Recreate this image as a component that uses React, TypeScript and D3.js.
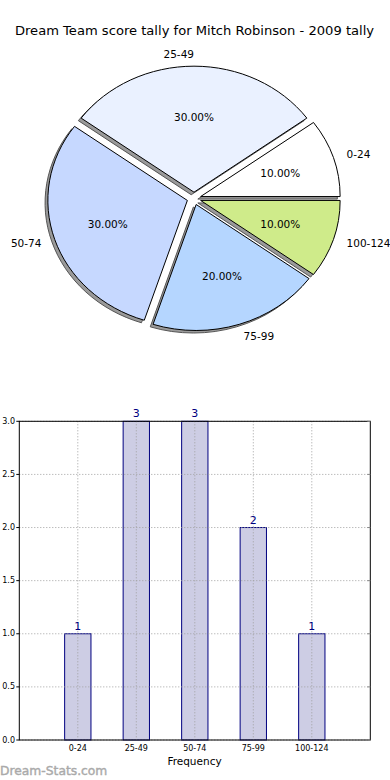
import React from "react";
import * as d3 from "d3";

const title = "Dream Team score tally for Mitch Robinson - 2009 tally";
const categories = ["0-24", "25-49", "50-74", "75-99", "100-124"];
const counts = [1, 3, 3, 2, 1];
const sliceColors = ["#ffffff", "#eaf1ff", "#c6d8ff", "#b5d6ff", "#cfeb8a"];
const yTicks = [0, 0.5, 1, 1.5, 2, 2.5, 3];

const FONT = "DejaVu Sans, Verdana, sans-serif";

export default function App() {
  React.useEffect(() => {
    document.body.style.margin = "0";
  }, []);

  // Pie geometry (elliptical, as in matplotlib without equal aspect)
  const cx = 194;
  const cy = 198.5;
  const rx = 139.5;
  const ry = 126;
  const explode = 0.05;
  const total = d3.sum(counts);

  const pie = d3
    .pie<number>()
    .sort(null)
    .startAngle(Math.PI / 2)
    .endAngle(Math.PI / 2 - 2 * Math.PI);
  const arcs = pie(counts);
  const arcGen = d3.arc<d3.PieArcDatum<number>>().innerRadius(0).outerRadius(1);

  const slices = arcs.map((a, i) => {
    const mid = (a.startAngle + a.endAngle) / 2;
    const ux = Math.sin(mid);
    const uy = -Math.cos(mid);
    const ox = cx + explode * rx * ux;
    const oy = cy + explode * ry * uy;
    return { a, i, mid, ux, uy, ox, oy };
  });

  // Bar chart geometry
  const left = 19.3;
  const right = 370.3;
  const top = 421.3;
  const bottom = 740;
  const x = d3.scaleLinear().domain([-1, 5]).range([left, right]);
  const y = d3.scaleLinear().domain([0, 3]).range([bottom, top]);
  const barW = 0.45;

  return (
    <svg
      width={390}
      height={780}
      style={{ position: "absolute", left: 0, top: 0, background: "#fff" }}
      fontFamily={FONT}
    >
      <rect x={0} y={0} width={390} height={780} fill="#fff" />
      <text x={194.5} y={35} textAnchor="middle" fontSize={13.1} fill="#000">
        {title}
      </text>

      {/* shadows */}
      {slices.map((s) => (
        <g
          key={"sh" + s.i}
          transform={`translate(${s.ox - 0.02 * rx},${s.oy + 0.02 * ry}) scale(${rx},${ry})`}
        >
          <path
            d={arcGen(s.a) || ""}
            fill="#9a9a9a"
            stroke="#555"
            strokeWidth={1}
            vectorEffect="non-scaling-stroke"
          />
        </g>
      ))}
      {/* wedges */}
      {slices.map((s) => (
        <g key={"w" + s.i} transform={`translate(${s.ox},${s.oy}) scale(${rx},${ry})`}>
          <path
            d={arcGen(s.a) || ""}
            fill={sliceColors[s.i]}
            stroke="#000"
            strokeWidth={1}
            vectorEffect="non-scaling-stroke"
          />
        </g>
      ))}
      {/* labels */}
      {slices.map((s) => {
        const lx = s.ox + 1.1 * rx * s.ux;
        const ly = s.oy + 1.1 * ry * s.uy;
        const anchor = s.ux > 1e-6 ? "start" : "end";
        const px = s.ox + 0.6 * rx * s.ux;
        const py = s.oy + 0.6 * ry * s.uy;
        const pct = ((counts[s.i] / total) * 100).toFixed(2) + "%";
        return (
          <g key={"l" + s.i} fontSize={10.5} fill="#000">
            <text x={lx} y={ly} textAnchor={anchor} dominantBaseline="central">
              {categories[s.i]}
            </text>
            <text x={px} y={py} textAnchor="middle" dominantBaseline="central">
              {pct}
            </text>
          </g>
        );
      })}

      {/* Bar chart */}
      {counts.map((c, i) => (
        <rect
          key={"b" + i}
          x={x(i - barW / 2)}
          y={y(c)}
          width={x(i + barW / 2) - x(i - barW / 2)}
          height={y(0) - y(c)}
          fill="#cdcde4"
          stroke="#000080"
          strokeWidth={1}
        />
      ))}
      {/* grid */}
      {yTicks.map((t) => (
        <line
          key={"gy" + t}
          x1={left}
          x2={right}
          y1={y(t)}
          y2={y(t)}
          stroke="#a0a0a0"
          strokeWidth={1}
          strokeDasharray="1,2"
        />
      ))}
      {categories.map((c, i) => (
        <line
          key={"gx" + i}
          x1={x(i)}
          x2={x(i)}
          y1={top}
          y2={bottom}
          stroke="#a0a0a0"
          strokeWidth={1}
          strokeDasharray="1,2"
        />
      ))}
      <rect x={left} y={top} width={right - left} height={bottom - top} fill="none" stroke="#000" strokeWidth={1} />
      {yTicks.map((t) => (
        <g key={"ty" + t}>
          <line x1={left - 3} x2={left} y1={y(t)} y2={y(t)} stroke="#000" strokeWidth={1} />
          <line x1={right - 3} x2={right} y1={y(t)} y2={y(t)} stroke="#888" strokeWidth={1} />
          <text x={15} y={y(t)} textAnchor="end" dominantBaseline="central" fontSize={8} fill="#000">
            {t.toFixed(1)}
          </text>
        </g>
      ))}
      {categories.map((c, i) => (
        <text key={"tx" + i} x={x(i)} y={748} textAnchor="middle" dominantBaseline="central" fontSize={8} fill="#000">
          {c}
        </text>
      ))}
      {counts.map((c, i) => (
        <text key={"v" + i} x={x(i)} y={y(c) - 4} textAnchor="middle" fontSize={11} fill="#000080">
          {c}
        </text>
      ))}
      <text x={194.5} y={761} textAnchor="middle" dominantBaseline="central" fontSize={10.5} fill="#000">
        Frequency
      </text>
      <text x={0} y={775} fontSize={12.3} fill="#aaaaaa" stroke="#aaaaaa" strokeWidth={0.4}>
        Dream-Stats.com
      </text>
    </svg>
  );
}
